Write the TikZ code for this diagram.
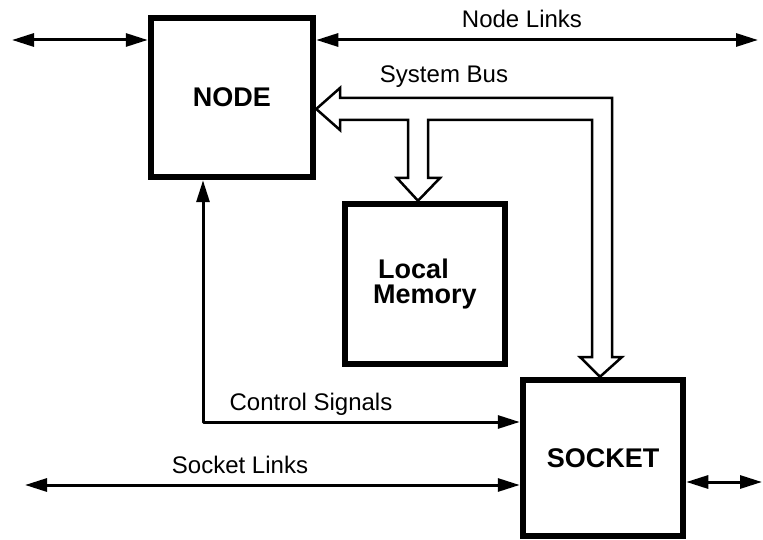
\documentclass[tikz,border=0pt]{standalone}
\usepackage{fontspec}
\setmainfont{Liberation Sans}
\usetikzlibrary{arrows.meta}
\begin{document}
\begin{tikzpicture}[x=1pt,y=-1pt,
  unitbox/.style={draw, line width=6.5pt, inner sep=0pt,
    font=\fontsize{27}{25}\selectfont\bfseries},
  link/.style={line width=3pt, line join=round,
    {Triangle[length=22pt,width=13pt]}-{Triangle[length=22pt,width=13pt]}},
  lbl/.style={font=\fontsize{24}{26}\selectfont, inner sep=0pt, anchor=base},
  bus/.style={draw, line width=2.5pt, line join=miter, fill=white}]
\useasboundingbox (0,0) rectangle (763,540);
\node[unitbox, minimum width=162pt, minimum height=159pt] (node) at (232,97.5) {NODE};
\node[unitbox, minimum width=160pt, minimum height=160pt, align=left] (mem) at (425,284) {\hspace*{5pt}Local\\Memory};
\node[unitbox, minimum width=160pt, minimum height=156pt] (socket) at (603,458) {SOCKET};
% node links
\coordinate (nlL) at (12,40);
\coordinate (nlR) at (758,40);
\draw[link] (nlL) -- (nlL -| node.west);
\draw[link] (node.east |- nlR) -- (nlR);
% control signals
\coordinate (cs) at (203,422);
\draw[link] (node.south -| cs) -- (cs) -- (cs -| socket.west);
% socket links
\coordinate (slL) at (25,485);
\draw[link] (slL) -- (slL -| socket.west);
\coordinate (srR) at (762,482);
\draw[link] (socket.east |- srR) -- (srR);
% system bus
\draw[bus] (node.east |- 0,109) -- (340,88) -- (340,98) -- (612,98) -- (612,357)
  -- (622,357) -- (socket.north -| 600,0) -- (580,357) -- (592,357) -- (592,120)
  -- (428,120) -- (428,178) -- (440,178) -- (mem.north -| 418,0) -- (397,178)
  -- (408,178) -- (408,120) -- (340,120) -- (340,130) -- cycle;
% labels
\node[lbl] (tnl) at (522,28) {Node Links};
\node[lbl] (tsb) at (444,83) {System Bus};
\node[lbl] (tcs) at (311,410) {Control Signals};
\node[lbl] (tsl) at (240,473) {Socket Links};
\end{tikzpicture}
\end{document}
